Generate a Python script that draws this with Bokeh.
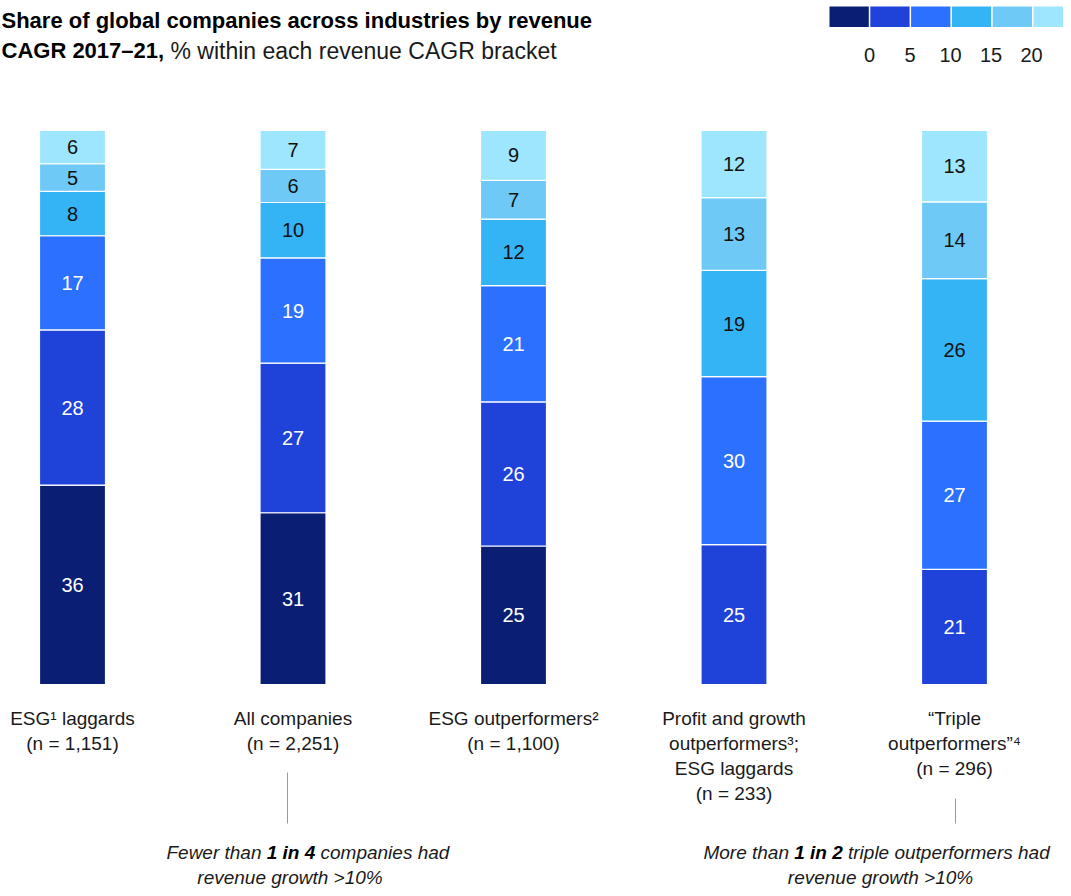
import numpy as np
from bokeh.plotting import figure
from bokeh.models import Range1d, ColumnDataSource
from bokeh.core.properties import value
from bokeh.embed import file_html
from bokeh.resources import INLINE

# ---------------- data ----------------
categories = [
    "ESG¹ laggards\n(n = 1,151)",
    "All companies\n(n = 2,251)",
    "ESG outperformers²\n(n = 1,100)",
    "Profit and growth\noutperformers³;\nESG laggards\n(n = 233)",
    "“Triple\noutperformers”⁴\n(n = 296)",
]
brackets = ["<0", "0–5", "5–10", "10–15", "15–20", ">20"]
legend_ticks = ["0", "5", "10", "15", "20"]

below_0 = [36, 31, 25, 0, 0]
from_0_to_5 = [28, 27, 26, 25, 21]
from_5_to_10 = [17, 19, 21, 30, 27]
from_10_to_15 = [8, 10, 12, 19, 26]
from_15_to_20 = [5, 6, 7, 13, 14]
above_20 = [6, 7, 9, 12, 13]

colors = ["#0a1f74", "#1f42d9", "#2b70ff", "#34b4f4", "#6ec9f7", "#9de6fd"]
label_colors = ["white", "white", "white", "#111111", "#111111", "#111111"]

title_line1 = "Share of global companies across industries by revenue"
title_line2_bold = "CAGR 2017–21,"
title_line2_rest = "% within each revenue CAGR bracket"

# ---------------- layout helpers (positions in canvas pixels) ----------------
W, H = 1063, 888
STEP = 220.5      # pixels between bar centres
FIRST = 72        # x of the first bar centre
BASE = 684        # y of the bar baseline
PPU = 5.54        # pixels per percentage point


def X(px):
    return (px - FIRST) / STEP


def Y(py):
    return (BASE - py) / PPU


FONT = value("Liberation Sans")

p = figure(
    width=W, height=H,
    x_range=Range1d(X(0), X(W)),
    y_range=Range1d(Y(H), Y(0)),
    output_backend="svg", toolbar_location=None,
    x_axis_location=None, y_axis_location=None,
    min_border=0, min_border_left=0, min_border_right=0,
    min_border_top=0, min_border_bottom=0,
    outline_line_color=None,
    background_fill_color="white", border_fill_color="white",
)
p.grid.visible = False

# ---------------- stacked bars ----------------
series = [below_0, from_0_to_5, from_5_to_10, from_10_to_15, from_15_to_20, above_20]
vals = np.array(series, dtype=float)
shares = vals / vals.sum(axis=0) * 100.0
tops = np.cumsum(shares, axis=0)
bottoms = tops - shares
xs = np.arange(len(categories), dtype=float)

seg = dict(x=[], bottom=[], top=[], mid=[], color=[], tcolor=[], label=[])
for i in range(len(series)):
    for j in range(len(categories)):
        if vals[i, j] <= 0:
            continue
        seg["x"].append(xs[j])
        seg["bottom"].append(bottoms[i, j])
        seg["top"].append(tops[i, j])
        seg["mid"].append((bottoms[i, j] + tops[i, j]) / 2)
        seg["color"].append(colors[i])
        seg["tcolor"].append(label_colors[i])
        seg["label"].append(str(int(vals[i, j])))
src = ColumnDataSource(seg)

p.vbar(x="x", width=66 / STEP, bottom="bottom", top="top", source=src,
       fill_color="color", line_color="white", line_width=1.2)
p.text(x="x", y="mid", text="label", source=src, text_color="tcolor",
       text_font=FONT, text_font_size="20px", text_align="center",
       text_baseline="middle")

# ---------------- category labels (one text per line) ----------------
cx, cy, ct = [], [], []
for j, cat in enumerate(categories):
    for k, line in enumerate(cat.split("\n")):
        cx.append(xs[j])
        cy.append(Y(718 + 25 * k))
        ct.append(line)
p.text(x=cx, y=cy, text=ct, text_font=FONT, text_font_size="19px",
       text_align="center", text_baseline="middle", text_color="#1a1a1a")

# ---------------- legend ----------------
box_step = 40.8
box_left0 = 829
lefts = [X(box_left0 + k * box_step) for k in range(len(colors))]
rights = [X(box_left0 + k * box_step + 39.3) for k in range(len(colors))]
p.quad(left=lefts, right=rights, top=[Y(6)] * len(colors),
       bottom=[Y(26.5)] * len(colors), fill_color=colors, line_color=None)
tick_x = [X(869 + k * 40.5) for k in range(len(legend_ticks))]
p.text(x=tick_x, y=[Y(54)] * len(tick_x), text=legend_ticks, text_font=FONT,
       text_font_size="20px", text_align="center", text_baseline="middle",
       text_color="#1a1a1a")

# ---------------- title ----------------
p.text(x=[X(1)], y=[Y(20)], text=[title_line1], text_font=FONT,
       text_font_size="22px", text_font_style="bold", text_align="left",
       text_baseline="middle", text_color="#000000")
p.text(x=[X(1)], y=[Y(50)], text=[title_line2_bold], text_font=FONT,
       text_font_size="22px", text_font_style="bold", text_align="left",
       text_baseline="middle", text_color="#000000")
p.text(x=[X(170)], y=[Y(50)], text=[title_line2_rest], text_font=FONT,
       text_font_size="23px", text_align="left",
       text_baseline="middle", text_color="#1a1a1a")

# ---------------- callouts ----------------
p.segment(x0=[X(287), X(955)], y0=[Y(772), Y(798)],
          x1=[X(287), X(955)], y1=[Y(823), Y(823)],
          line_color="#9a9a9a", line_width=1)

ann_y1, ann_y2 = Y(852), Y(877)
# left annotation
p.text(x=[X(261)], y=[ann_y1], text=["Fewer than"], text_font=FONT,
       text_font_size="19px", text_font_style="italic", text_align="right",
       text_baseline="middle", text_color="#1a1a1a")
p.text(x=[X(290.5)], y=[ann_y1], text=["1 in 4"], text_font=FONT,
       text_font_size="19px", text_font_style="bold italic", text_align="center",
       text_baseline="middle", text_color="#000000")
p.text(x=[X(320)], y=[ann_y1], text=["companies had"], text_font=FONT,
       text_font_size="19px", text_font_style="italic", text_align="left",
       text_baseline="middle", text_color="#1a1a1a")
p.text(x=[X(289.5)], y=[ann_y2], text=["revenue growth >10%"], text_font=FONT,
       text_font_size="19px", text_font_style="italic", text_align="center",
       text_baseline="middle", text_color="#1a1a1a")
# right annotation
p.text(x=[X(788.5)], y=[ann_y1], text=["More than"], text_font=FONT,
       text_font_size="19px", text_font_style="italic", text_align="right",
       text_baseline="middle", text_color="#1a1a1a")
p.text(x=[X(818)], y=[ann_y1], text=["1 in 2"], text_font=FONT,
       text_font_size="19px", text_font_style="bold italic", text_align="center",
       text_baseline="middle", text_color="#000000")
p.text(x=[X(847.5)], y=[ann_y1], text=["triple outperformers had"], text_font=FONT,
       text_font_size="19px", text_font_style="italic", text_align="left",
       text_baseline="middle", text_color="#1a1a1a")
p.text(x=[X(880)], y=[ann_y2], text=["revenue growth >10%"], text_font=FONT,
       text_font_size="19px", text_font_style="italic", text_align="center",
       text_baseline="middle", text_color="#1a1a1a")

open("out.html", "w").write(file_html(p, INLINE))
